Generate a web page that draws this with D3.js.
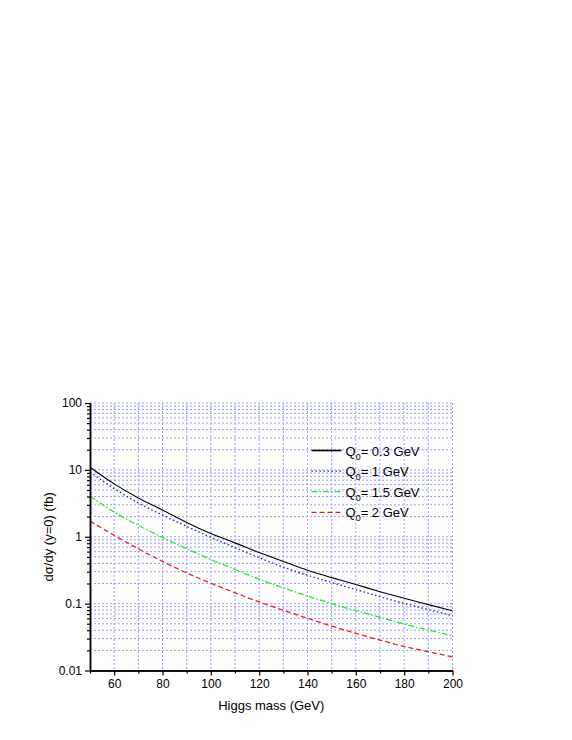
<!DOCTYPE html>
<html>
<head>
<meta charset="utf-8">
<script src="https://cdn.jsdelivr.net/npm/d3@7"></script>
<style>
  body { margin: 0; background: #fff; }
  svg { font-family: "Liberation Sans", Arial, sans-serif; }
  .axis path, .axis line { stroke: #000; }
  .axis text { font-size: 12px; fill: #000; }
  .grid line { stroke: #9b9bff; stroke-dasharray: 2,2; stroke-width: 1; }
</style>
</head>
<body>
<div id="chart"></div>
<script>
// Higgs mass (GeV)
var masses = [50, 60, 70, 80, 90, 100, 110, 120, 130, 140, 150, 160, 170, 180, 190, 200];
// d sigma/dy at y=0 (fb) per Q0
var q03 = [10.96, 6.17, 3.80, 2.51, 1.64, 1.12, 0.81, 0.58, 0.427, 0.316, 0.245, 0.193, 0.151, 0.120, 0.0966, 0.078];
var q1  = [9.33, 5.25, 3.20, 2.11, 1.43, 0.98, 0.69, 0.485, 0.351, 0.266, 0.207, 0.162, 0.127, 0.101, 0.0813, 0.066];
var q15 = [4.07, 2.34, 1.48, 0.977, 0.661, 0.457, 0.324, 0.232, 0.172, 0.130, 0.100, 0.0785, 0.0624, 0.0495, 0.0403, 0.0331];
var q2  = [1.72, 1.05, 0.661, 0.427, 0.288, 0.202, 0.145, 0.106, 0.0794, 0.0603, 0.0462, 0.0359, 0.0285, 0.0229, 0.0191, 0.016];

var seriesNames = ["0.3 GeV", "1 GeV", "1.5 GeV", "2 GeV"];
var xTicks = [60, 80, 100, 120, 140, 160, 180, 200];
var xMinorTicks = [50, 70, 90, 110, 130, 150, 170, 190];
var yTicks = [0.01, 0.1, 1, 10, 100];
var yTickLabels = ["0.01", "0.1", "1", "10", "100"];

var W = 572, H = 740;
var margin = {top: 403, right: 120, bottom: 70, left: 90},
    width = 452.5 - margin.left,
    height = 670.5 - margin.top;

var svg = d3.select("#chart").append("svg")
    .attr("width", W)
    .attr("height", H);

var g = svg.append("g").attr("transform", "translate(" + margin.left + "," + margin.top + ")");

var x = d3.scaleLinear().domain([50, 200]).range([0, width]);
var y = d3.scaleLog().domain([0.01, 100]).range([height, 0]);

// minor log values 2..9 per decade
var yMinor = [];
yTicks.slice(0, -1).forEach(function(d) {
  for (var k = 2; k <= 9; k++) yMinor.push(d * k);
});

// ---- grid ----
var grid = g.append("g").attr("class", "grid");
grid.selectAll(".gh").data(yMinor.concat(yTicks)).enter().append("line")
    .attr("x1", 0).attr("x2", width)
    .attr("y1", d => y(d)).attr("y2", d => y(d));
grid.selectAll(".gv").data(d3.range(60, 201, 10)).enter().append("line")
    .attr("x1", d => x(d)).attr("x2", d => x(d))
    .attr("y1", 0).attr("y2", height);

// ---- series ----
var line = d3.line()
    .x((d, i) => x(masses[i]))
    .y(d => y(d))
    .curve(d3.curveMonotoneX);

var styles = [
  {data: q03, color: "#000000", dash: null, w: 1.1},
  {data: q1,  color: "#2b2bd8", dash: "1.5,2.5", w: 1.4},
  {data: q15, color: "#22ee22", dash: "6,2,1.5,2", w: 1.3},
  {data: q2,  color: "#ff1a1a", dash: "5,3", w: 1.3}
];

styles.forEach(function(s) {
  g.append("path")
    .attr("fill", "none")
    .attr("stroke", s.color)
    .attr("stroke-width", s.w)
    .attr("stroke-dasharray", s.dash)
    .attr("d", line(s.data));
});

// ---- axes ----
var xAxis = d3.axisBottom(x).tickValues(xTicks).tickSize(5).tickSizeOuter(0).tickPadding(4);
var xAxisMinor = d3.axisBottom(x).tickValues(xMinorTicks).tickSize(3).tickFormat("").tickSizeOuter(0);
var yAxis = d3.axisLeft(y).tickValues(yTicks).tickSize(5).tickSizeOuter(0).tickPadding(3)
    .tickFormat((d, i) => yTickLabels[i]);
var yAxisMinor = d3.axisLeft(y).tickValues(yMinor).tickSize(3).tickFormat("").tickSizeOuter(0);

g.append("g").attr("class", "axis").attr("transform", "translate(0," + height + ")").call(xAxisMinor);
g.append("g").attr("class", "axis").attr("transform", "translate(0," + height + ")").call(xAxis);
g.append("g").attr("class", "axis").call(yAxisMinor);
g.append("g").attr("class", "axis").call(yAxis);
g.selectAll(".axis path.domain").attr("stroke-width", 1.5);
g.selectAll(".axis line").attr("stroke-width", 1.2);

g.append("text")
    .attr("x", width / 2)
    .attr("y", height + 39)
    .attr("text-anchor", "middle")
    .attr("font-size", "13px")
    .text("Higgs mass (GeV)");

g.append("text")
    .attr("transform", "rotate(-90)")
    .attr("x", -height / 2)
    .attr("y", -37)
    .attr("text-anchor", "middle")
    .attr("font-size", "13px")
    .text("dσ/dy (y=0) (fb)");

// ---- legend ----
var legend = g.append("g").attr("transform", "translate(" + (311.5 - margin.left) + "," + (450.5 - margin.top) + ")");
styles.forEach(function(s, i) {
  var row = legend.append("g").attr("transform", "translate(0," + (i * 20.6) + ")");
  row.append("line")
    .attr("x1", 0).attr("x2", 30)
    .attr("stroke", s.color)
    .attr("stroke-width", i === 0 ? 1.6 : s.w)
    .attr("stroke-dasharray", s.dash);
  var t = row.append("text")
    .attr("x", 34)
    .attr("y", 5)
    .attr("font-size", "13px");
  t.append("tspan").text("Q");
  t.append("tspan").attr("dy", 4).attr("font-size", "9px").text("0");
  t.append("tspan").attr("dy", -4).text("= " + seriesNames[i]);
});
</script>
</body>
</html>
